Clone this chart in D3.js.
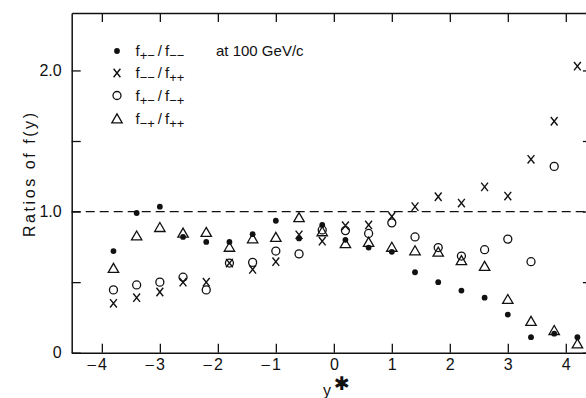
<!DOCTYPE html>
<html>
<head>
<meta charset="utf-8">
<script src="https://cdn.jsdelivr.net/npm/d3@7"></script>
<style>
  body { margin: 0; background: #fff; }
  text { font-family: "Liberation Sans", Arial, sans-serif; fill: #111; }
</style>
</head>
<body>
<svg id="chart" width="586" height="398"></svg>
<script>
// Rapidity bins (y*) and the four ratios of f(y) at 100 GeV/c
const ystar = [-3.8, -3.4, -3.0, -2.6, -2.2, -1.8, -1.4, -1.0, -0.6, -0.2,
                0.2,  0.6,  1.0,  1.4,  1.8,  2.2,  2.6,  3.0,  3.4,  3.8, 4.2];

// f+-/f--  (filled dots)
const ratioPmMm = [0.72, 0.99, 1.035, 0.82, 0.785, 0.785, 0.84, 0.935, 0.81, 0.905,
                   0.80, 0.745, 0.715, 0.57, 0.50, 0.44, 0.39, 0.27, 0.11, 0.135, 0.11];
// f--/f++  (crosses)
const ratioMmPp = [0.35, 0.39, 0.43, 0.50, 0.50, 0.635, 0.59, 0.645, 0.835, 0.79,
                   0.90, 0.905, 0.965, 1.035, 1.105, 1.06, 1.175, 1.11, 1.37, 1.64, 2.03];
// f+-/f-+  (open circles)
const ratioPmMp = [0.445, 0.48, 0.50, 0.535, 0.445, 0.635, 0.64, 0.72, 0.70, 0.87,
                   0.865, 0.845, 0.92, 0.82, 0.745, 0.685, 0.73, 0.805, 0.645, 1.32, null];
// f-+/f++  (open triangles)
const ratioMpPp = [0.60, 0.83, 0.89, 0.85, 0.855, 0.75, 0.81, 0.82, 0.96, 0.86,
                   0.775, 0.785, 0.75, 0.725, 0.715, 0.655, 0.615, 0.38, 0.225, 0.16, 0.065];

const xTickValues = [-4, -3, -2, -1, 0, 1, 2, 3, 4];
const yTickValues = [0, 0.5, 1.0, 1.5, 2.0];
const yTickLabels = ["0", "", "1.0", "", "2.0"];

const ink = "#111";
const svg = d3.select("#chart");

const x = d3.scaleLinear().domain([-4.52, 4.45]).range([71.7, 591.9]);
const y = d3.scaleLinear().domain([0, 2.407]).range([352.7, 13]);

function styleAxis(g) {
  g.select(".domain").attr("stroke", ink).attr("stroke-width", 1.5);
  g.selectAll(".tick line").attr("stroke", ink).attr("stroke-width", 1.3);
  g.selectAll("text").attr("font-family", null).style("font-size", "16px").attr("fill", ink);
}

// Bottom axis: digit centred on the tick, minus sign hung to its left
const gx = svg.append("g")
  .attr("transform", `translate(0,${y(0)})`)
  .call(d3.axisBottom(x).tickValues(xTickValues).tickSizeInner(-9).tickSizeOuter(0)
        .tickPadding(6).tickFormat(d => String(Math.abs(d))));
styleAxis(gx);
gx.selectAll(".tick").filter(d => d < 0).append("text")
  .attr("x", -6.5).attr("y", 6).attr("dy", "0.71em")
  .attr("text-anchor", "end").style("font-size", "15px").attr("fill", ink)
  .text("\u2013");

// Left axis
const gy = svg.append("g")
  .attr("transform", `translate(${x.range()[0]},0)`)
  .call(d3.axisLeft(y).tickValues(yTickValues).tickSizeInner(-9).tickSizeOuter(0)
        .tickPadding(10).tickFormat((d, i) => yTickLabels[i]));
styleAxis(gy);

// Top and right frame with inward ticks
const gt = svg.append("g")
  .attr("transform", `translate(0,${y.range()[1]})`)
  .call(d3.axisTop(x).tickValues(xTickValues).tickSizeInner(-9).tickSizeOuter(0).tickFormat(""));
styleAxis(gt);
const gr = svg.append("g")
  .attr("transform", `translate(${x.range()[1]},0)`)
  .call(d3.axisRight(y).tickValues(yTickValues).tickSizeInner(-9).tickSizeOuter(0).tickFormat(""));
styleAxis(gr);

// Reference line at ratio = 1
svg.append("line")
  .attr("x1", x.range()[0]).attr("x2", x.range()[1])
  .attr("y1", y(1)).attr("y2", y(1))
  .attr("stroke", ink).attr("stroke-width", 1.3)
  .attr("stroke-dasharray", "9,5");

// Marker drawing helpers
const crossPath = "M-3.4,-4.2L3.4,4.2M3.4,-4.2L-3.4,4.2";
const triPath = "M0,-4.6L5.2,4.4L-5.2,4.4Z";

function drawDot(g, cx, cy) {
  g.append("circle").attr("cx", cx).attr("cy", cy).attr("r", 2.9).attr("fill", ink);
}
function drawCross(g, cx, cy) {
  g.append("path").attr("d", crossPath).attr("transform", `translate(${cx},${cy})`)
    .attr("fill", "none").attr("stroke", ink).attr("stroke-width", 1.4);
}
function drawRing(g, cx, cy) {
  g.append("circle").attr("cx", cx).attr("cy", cy).attr("r", 4)
    .attr("fill", "none").attr("stroke", ink).attr("stroke-width", 1.3);
}
function drawTri(g, cx, cy) {
  g.append("path").attr("d", triPath).attr("transform", `translate(${cx},${cy})`)
    .attr("fill", "none").attr("stroke", ink).attr("stroke-width", 1.3);
}

const series = [
  { values: ratioMpPp, draw: drawTri },
  { values: ratioPmMp, draw: drawRing },
  { values: ratioMmPp, draw: drawCross },
  { values: ratioPmMm, draw: drawDot }
];

const marks = svg.append("g");
series.forEach(s => {
  s.values.forEach((v, i) => {
    if (v === null) return;
    s.draw(marks, x(ystar[i]), y(v));
  });
});

// Legend
const legend = svg.append("g");
const legendRows = [
  { draw: drawDot,   num: "+\u2212", den: "\u2212\u2212", yy: 51 },
  { draw: drawCross, num: "\u2212\u2212", den: "++", yy: 73 },
  { draw: drawRing,  num: "+\u2212", den: "\u2212+", yy: 95.5 },
  { draw: drawTri,   num: "\u2212+", den: "++", yy: 118.5 }
];
legendRows.forEach((r, i) => {
  r.draw(legend, 117, r.yy);
  const t = legend.append("text").attr("x", 135.5).attr("y", r.yy + 5).style("font-size", "15px");
  t.append("tspan").text("f");
  t.append("tspan").attr("dy", 4).style("font-size", "13px").text(r.num);
  t.append("tspan").attr("dy", -4).attr("dx", 3).text("/");
  t.append("tspan").attr("dx", 3).text("f");
  t.append("tspan").attr("dy", 4).style("font-size", "13px").text(r.den);
  if (i === 0) {
    legend.append("text").attr("x", 216).attr("y", r.yy + 5)
      .style("font-size", "15px").text("at 100 GeV/c");
  }
});

// Axis titles
svg.append("text")
  .attr("transform", "translate(35,175) rotate(-90)")
  .attr("text-anchor", "middle")
  .attr("textLength", 124).attr("lengthAdjust", "spacing")
  .style("font-size", "16px")
  .text("Ratios of f(y)");

const xt = svg.append("text").attr("x", 323).attr("y", 396).style("font-size", "16px");
xt.append("tspan").text("y");
xt.append("tspan").attr("dx", 3).attr("dy", -6)
  .style("font-family", "'DejaVu Sans', sans-serif").style("font-size", "19px").text("\u2731");
</script>
</body>
</html>
